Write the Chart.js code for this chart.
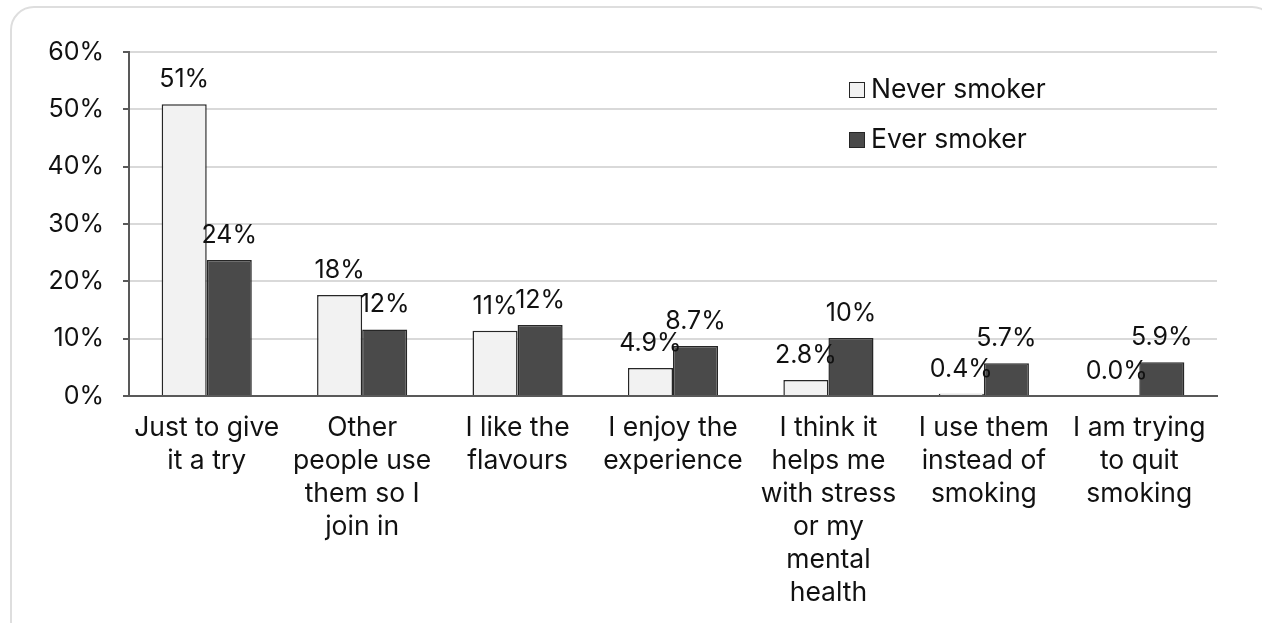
<!DOCTYPE html>
<html>
<head>
<meta charset="utf-8">
<script src="https://cdn.jsdelivr.net/npm/chart.js@4/dist/chart.umd.min.js"></script>
<style>
  html, body { margin: 0; padding: 0; background: #fff; overflow: hidden; }
  #frame { position: absolute; left: 10px; top: 6px; width: 1266px; height: 640px;
           border: 2px solid #dedede; border-radius: 24px; box-sizing: border-box; }
  #wrap { position: absolute; left: 0; top: 0; width: 1262px; height: 623px; }
</style>
</head>
<body>
<div id="frame"></div>
<div id="wrap"><canvas id="chart"></canvas></div>
<script>
// categories (multi-line, as wrapped in the original)
var categories = [
  ['Just to give', 'it a try'],
  ['Other', 'people use', 'them so I', 'join in'],
  ['I like the', 'flavours'],
  ['I enjoy the', 'experience'],
  ['I think it', 'helps me', 'with stress', 'or my', 'mental', 'health'],
  ['I use them', 'instead of', 'smoking'],
  ['I am trying', 'to quit', 'smoking']
];
var neverSmoker = [50.9, 17.6, 11.4, 4.9, 2.8, 0.4, 0.0];
var everSmoker = [23.7, 11.6, 12.4, 8.7, 10.1, 5.7, 5.9];
var seriesNames = ['Never smoker', 'Ever smoker'];
var yTicks = [0, 10, 20, 30, 40, 50, 60];

var FONT = 'Inter, "Noto Sans", sans-serif';
var numSize = 25;   // numbers (axis + value labels)
var textSize = 26.5; // words (categories + legend)

function pct(v) {
  // big values rounded, small ones keep one decimal
  if (v >= 9.95) return Math.round(v) + '%';
  return v.toFixed(1) + '%';
}

// value labels above every bar
var barLabels = {
  id: 'barLabels',
  afterDatasetsDraw: function(chart) {
    var ctx = chart.ctx;
    ctx.save();
    ctx.font = numSize + 'px ' + FONT;
    ctx.fillStyle = '#111';
    ctx.textAlign = 'center';
    ctx.textBaseline = 'alphabetic';
    chart.data.datasets.forEach(function(ds, i) {
      chart.getDatasetMeta(i).data.forEach(function(bar, j) {
        ctx.fillText(pct(ds.data[j]), bar.x, bar.y - 17);
      });
    });
    ctx.restore();
  }
};

// legend inside the plot, top right, stacked
var insideLegend = {
  id: 'insideLegend',
  afterDraw: function(chart) {
    var ctx = chart.ctx;
    var a = chart.chartArea;
    ctx.save();
    ctx.font = textSize + 'px ' + FONT;
    ctx.textBaseline = 'middle';
    ctx.textAlign = 'left';
    chart.data.datasets.forEach(function(ds, i) {
      var x = a.right - 368;
      var y = a.top + 38 + i * 50;
      ctx.fillStyle = ds.backgroundColor;
      ctx.fillRect(x, y - 8, 16, 16);
      ctx.strokeStyle = '#262626';
      ctx.lineWidth = 1;
      ctx.strokeRect(x + 0.5, y - 7.5, 15, 15);
      ctx.fillStyle = '#111';
      ctx.fillText(ds.label, x + 22, y);
    });
    ctx.restore();
  }
};

var ctx = document.getElementById('chart');
var chart = new Chart(ctx, {
  type: 'bar',
  data: {
    labels: categories,
    datasets: [
      {
        label: seriesNames[0],
        data: neverSmoker,
        backgroundColor: '#f2f2f2',
        borderColor: '#262626',
        borderWidth: 1.5,
        borderSkipped: 'bottom'
      },
      {
        label: seriesNames[1],
        data: everSmoker,
        backgroundColor: '#4a4a4a',
        borderColor: '#262626',
        borderWidth: 1.5,
        borderSkipped: 'bottom'
      }
    ]
  },
  options: {
    responsive: true,
    maintainAspectRatio: false,
    animation: false,
    categoryPercentage: 0.58,
    barPercentage: 1,
    layout: { padding: { left: 0, right: 45, top: 52, bottom: 0 } },
    plugins: {
      legend: { display: false },
      tooltip: { enabled: false }
    },
    scales: {
      x: {
        grid: { display: false },
        border: { color: '#595959', width: 2 },
        ticks: {
          color: '#111',
          font: { family: FONT, size: textSize, lineHeight: 1.245 },
          padding: 8,
          maxRotation: 0,
          autoSkip: false
        },
        afterFit: function(s) { s.height = 227; }
      },
      y: {
        min: yTicks[0],
        max: yTicks[yTicks.length - 1],
        afterBuildTicks: function(s) {
          s.ticks = yTicks.map(function(v) { return { value: v }; });
        },
        grid: { color: '#d9d9d9', lineWidth: 2, tickColor: '#595959', tickLength: 6, tickWidth: 2 },
        border: { color: '#595959', width: 2 },
        ticks: {
          color: '#111',
          font: { family: FONT, size: numSize },
          padding: 19,
          callback: function(v) { return v + '%'; }
        },
        afterFit: function(s) { s.width = 129; }
      }
    }
  },
  plugins: [barLabels, insideLegend]
});
</script>
</body>
</html>
